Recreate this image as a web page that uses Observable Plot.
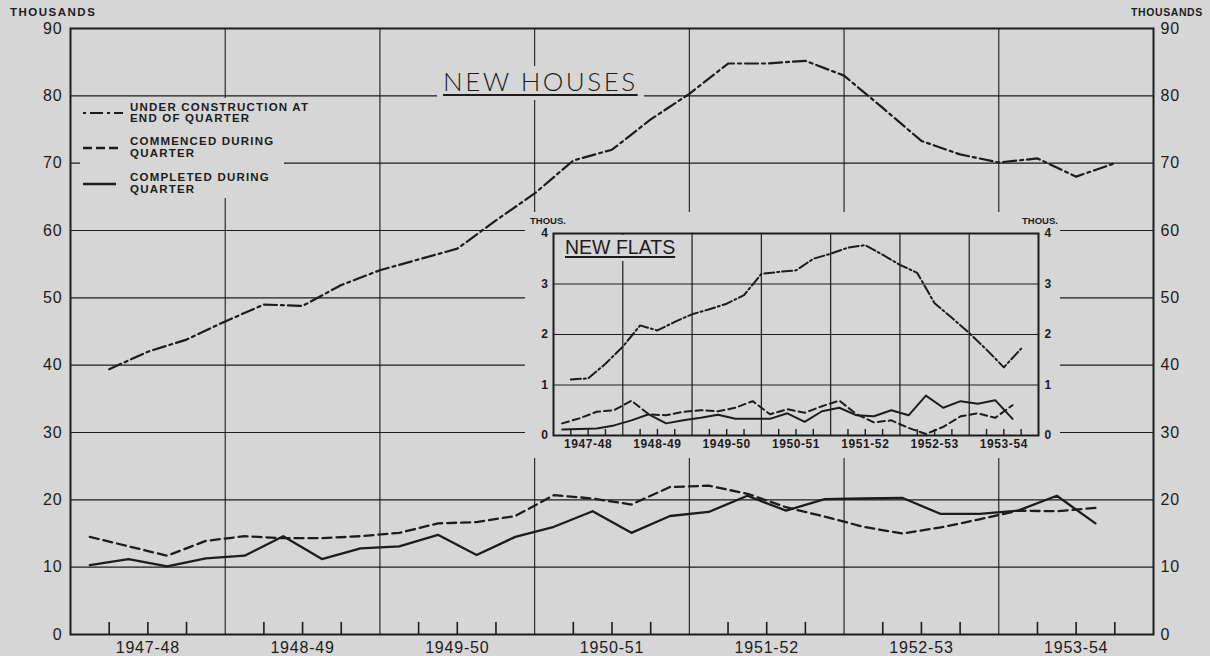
<!DOCTYPE html>
<html>
<head>
<meta charset="utf-8">
<script src="https://cdn.jsdelivr.net/npm/d3@7"></script>
<script src="https://cdn.jsdelivr.net/npm/@observablehq/plot@0.6"></script>
<style>
  body { margin: 0; background: #d6d6d6; }
  #wrap { position: relative; width: 1210px; height: 656px; overflow: hidden;
          font-family: "Liberation Sans", Arial, sans-serif; color: #1c1c1c; background: #d6d6d6; }
  .abs { position: absolute; }
  .unit { font-weight: bold; white-space: nowrap; }
  .legend-text { position: absolute; left: 50px; font-weight: bold; font-size: 11.5px;
                 letter-spacing: 1.2px; line-height: 11.5px; white-space: nowrap; }
</style>
</head>
<body>
<div id="wrap"></div>
<script>
// ---------- data ----------
const yearLabels = ["1947-48", "1948-49", "1949-50", "1950-51", "1951-52", "1952-53", "1953-54"];
const mainYTicks = [0, 10, 20, 30, 40, 50, 60, 70, 80, 90];
const insetYTicks = [0, 1, 2, 3, 4];

// New houses (thousands), quarterly from Apr-Jun 1947 to Oct-Dec 1953
const housesUnderConstruction = [39.4, 42.0, 43.8, 46.5, 49.0, 48.8, 51.9, 54.1, 55.7, 57.3, 61.5, 65.5,
  70.4, 72.0, 76.5, 80.3, 84.8, 84.8, 85.2, 83.0, 78.2, 73.3, 71.3, 70.1, 70.7, 68.0, 70.0];
const housesCommenced = [14.5, 13.1, 11.7, 13.9, 14.6, 14.3, 14.3, 14.6, 15.1, 16.5, 16.7, 17.6,
  20.7, 20.2, 19.3, 21.9, 22.1, 20.9, 18.9, 17.5, 16.0, 15.0, 15.9, 17.1, 18.4, 18.3, 18.8];
const housesCompleted = [10.3, 11.2, 10.1, 11.3, 11.7, 14.6, 11.2, 12.8, 13.1, 14.8, 11.8, 14.5,
  16.0, 18.3, 15.1, 17.6, 18.2, 20.6, 18.4, 20.1, 20.2, 20.3, 17.9, 17.9, 18.4, 20.6, 16.5];

// New flats (thousands)
const flatsUnderConstruction = [1.11, 1.13, 1.42, 1.76, 2.18, 2.08, 2.25, 2.40, 2.50, 2.61, 2.78, 3.20,
  3.24, 3.27, 3.50, 3.60, 3.72, 3.77, 3.58, 3.38, 3.22, 2.62, 2.33, 2.03, 1.70, 1.35, 1.72];
const flatsCommenced = [0.24, 0.34, 0.47, 0.50, 0.69, 0.42, 0.40, 0.47, 0.50, 0.48, 0.55, 0.68,
  0.42, 0.52, 0.45, 0.58, 0.69, 0.42, 0.26, 0.30, 0.15, 0.03, 0.17, 0.38, 0.44, 0.35, 0.60];
const flatsCompleted = [0.12, 0.13, 0.14, 0.20, 0.30, 0.42, 0.24, 0.30, 0.35, 0.41, 0.33, 0.33,
  0.33, 0.44, 0.27, 0.48, 0.55, 0.40, 0.38, 0.50, 0.40, 0.79, 0.55, 0.68, 0.63, 0.70, 0.33];

// ---------- derived ----------
const BG = "#d6d6d6", INK = "#1c1c1c";
const nYears = yearLabels.length;
const yearBounds = d3.range(1, nYears);
const quarterTicks = d3.range(1, nYears * 4).filter(k => k % 4 !== 0).map(k => k / 4);
const yearCenters = yearLabels.map((_, i) => i + 0.5);
const atQuarterEnd = arr => arr.map((v, i) => ({t: (i + 1) / 4, v}));
const atQuarterMid = arr => arr.map((v, i) => ({t: (i + 0.5) / 4, v}));
const yearFmt = d => yearLabels[Math.floor(d)];
const intFmt = d => String(d);

const wrap = document.getElementById("wrap");

// ---------- main chart ----------
const main = Plot.plot({
  width: 1210, height: 656,
  marginLeft: 70, marginRight: 57, marginTop: 28, marginBottom: 22,
  style: {background: "transparent", fontFamily: "Liberation Sans, Arial, sans-serif", color: INK, letterSpacing: "0.8px"},
  x: {domain: [0, nYears]},
  y: {domain: [0, 90]},
  marks: [
    Plot.ruleY(mainYTicks, {stroke: INK, strokeWidth: 1.1}),
    Plot.ruleX(yearBounds, {stroke: INK, strokeWidth: 1.1}),
    Plot.ruleX(quarterTicks, {x: d => d, y1: 0, y2: 1.8, stroke: INK, strokeWidth: 1.6}),
    Plot.frame({stroke: INK, strokeWidth: 2}),
    Plot.axisY({ticks: mainYTicks, anchor: "left", tickSize: 0, tickPadding: 8, fontSize: 16, tickFormat: intFmt, label: null}),
    Plot.axisY({ticks: mainYTicks, anchor: "right", tickSize: 0, tickPadding: 7, fontSize: 16, tickFormat: intFmt, label: null}),
    Plot.axisX({ticks: yearCenters, anchor: "bottom", tickSize: 0, tickPadding: 7, fontSize: 16, tickFormat: yearFmt, label: null}),
    Plot.line(atQuarterEnd(housesUnderConstruction), {x: "t", y: "v", stroke: INK, strokeWidth: 2.2, strokeDasharray: "13,4,3,4"}),
    Plot.line(atQuarterMid(housesCommenced), {x: "t", y: "v", stroke: INK, strokeWidth: 2.3, strokeDasharray: "9,5"}),
    Plot.line(atQuarterMid(housesCompleted), {x: "t", y: "v", stroke: INK, strokeWidth: 2.3})
  ]
});
main.style.position = "absolute";
main.style.left = "0px";
main.style.top = "0px";
wrap.appendChild(main);

// ---------- labels, title, legend ----------
function addDiv(html, css, cls = "abs") {
  const d = document.createElement("div");
  d.className = cls;
  d.innerHTML = html;
  Object.assign(d.style, css);
  wrap.appendChild(d);
  return d;
}
addDiv("THOUSANDS", {left: "10px", top: "6px", fontSize: "11.5px", letterSpacing: "1.5px", lineHeight: "13px"}, "abs unit");
addDiv("THOUSANDS", {left: "1131px", top: "6px", fontSize: "10.5px", letterSpacing: "0.6px", lineHeight: "13px"}, "abs unit");

addDiv("NEW HOUSES", {
  left: "437px", top: "66px", padding: "2px 6px 6px 6px", background: BG,
  fontFamily: "Lato, 'DejaVu Sans', sans-serif", fontWeight: "300", fontSize: "26px", lineHeight: "26px",
  letterSpacing: "2.5px", textDecoration: "underline", textDecorationThickness: "1.5px", textUnderlineOffset: "3px"
});

const legend = addDiv("", {left: "80px", top: "98px", width: "204px", height: "100px", background: BG});
legend.innerHTML = `
  <svg width="50" height="100" style="position:absolute;left:0;top:0">
    <line x1="3" x2="43" y1="15" y2="15" stroke="${INK}" stroke-width="2.2" stroke-dasharray="3,4,13,4"/>
    <line x1="3" x2="38" y1="50" y2="50" stroke="${INK}" stroke-width="2.3" stroke-dasharray="9,4"/>
    <line x1="3" x2="36" y1="86" y2="86" stroke="${INK}" stroke-width="2.5"/>
  </svg>
  <div class="legend-text" style="top:3.5px">UNDER CONSTRUCTION AT<br>END OF QUARTER</div>
  <div class="legend-text" style="top:38px">COMMENCED DURING<br>QUARTER</div>
  <div class="legend-text" style="top:74px">COMPLETED DURING<br>QUARTER</div>`;

// ---------- inset: new flats ----------
const insetBox = addDiv("", {left: "525px", top: "212px", width: "535px", height: "246px", background: BG});
const inset = Plot.plot({
  width: 535, height: 246,
  marginLeft: 28, marginRight: 22, marginTop: 21, marginBottom: 23,
  style: {background: BG, fontFamily: "Liberation Sans, Arial, sans-serif", color: INK, fontWeight: "bold", letterSpacing: "0.6px"},
  x: {domain: [0, nYears]},
  y: {domain: [0, 4]},
  marks: [
    Plot.ruleY(insetYTicks, {stroke: INK, strokeWidth: 1.2}),
    Plot.ruleX(yearBounds, {stroke: INK, strokeWidth: 1.2}),
    Plot.ruleX(quarterTicks, {x: d => d, y1: 0, y2: 0.12, stroke: INK, strokeWidth: 1.4}),
    Plot.frame({stroke: INK, strokeWidth: 2}),
    Plot.axisY({ticks: insetYTicks, anchor: "left", tickSize: 0, tickPadding: 5, fontSize: 12, tickFormat: intFmt, label: null}),
    Plot.axisY({ticks: insetYTicks, anchor: "right", tickSize: 0, tickPadding: 6, fontSize: 12, tickFormat: intFmt, label: null}),
    Plot.axisX({ticks: yearCenters, anchor: "bottom", tickSize: 0, tickPadding: 4, fontSize: 12, tickFormat: yearFmt, label: null}),
    Plot.line(atQuarterEnd(flatsUnderConstruction), {x: "t", y: "v", stroke: INK, strokeWidth: 2, strokeDasharray: "10,3,2,3"}),
    Plot.line(atQuarterMid(flatsCommenced), {x: "t", y: "v", stroke: INK, strokeWidth: 2, strokeDasharray: "7,4"}),
    Plot.line(atQuarterMid(flatsCompleted), {x: "t", y: "v", stroke: INK, strokeWidth: 2})
  ]
});
inset.style.position = "absolute";
inset.style.left = "0px";
inset.style.top = "0px";
insetBox.appendChild(inset);

function addInset(html, css) {
  const d = document.createElement("div");
  d.className = "abs";
  d.innerHTML = html;
  Object.assign(d.style, css);
  insetBox.appendChild(d);
}
addInset("THOUS.", {left: "5px", top: "3px", fontSize: "9.5px", fontWeight: "bold", lineHeight: "11px"});
addInset("THOUS.", {left: "497px", top: "3px", fontSize: "9.5px", fontWeight: "bold", lineHeight: "11px"});
addInset("NEW FLATS", {
  left: "34px", top: "23px", padding: "2px 6px 4px 6px", background: BG,
  fontSize: "19.5px", lineHeight: "20px", textDecoration: "underline",
  textDecorationThickness: "1.5px", textUnderlineOffset: "2px", whiteSpace: "nowrap"
});
</script>
</body>
</html>
